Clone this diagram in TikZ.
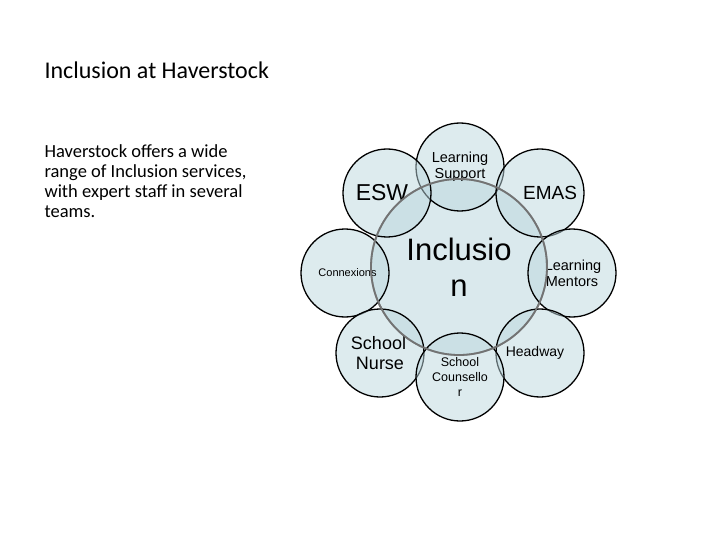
\documentclass[tikz,border=0pt]{standalone}
\usepackage{fontspec}
\setmainfont{Carlito}
\newfontfamily\arialf{Liberation Sans}
\begin{document}
\begin{tikzpicture}[x=1pt,y=-1pt,
  sm/.style={circle,minimum size=88pt,draw=black,line width=1.3pt,fill=cfill,fill opacity=0.5,text opacity=1,align=center,font=\arialf,inner sep=0pt},
  big/.style={circle,minimum size=176pt,draw=black!55,line width=1.8pt,fill=cfill,fill opacity=0.55,text opacity=1,align=center,font=\arialf\fontsize{31}{36}\selectfont,inner sep=0pt}]
\definecolor{cfill}{HTML}{BCD7DE}
\useasboundingbox (0,0) rectangle (720,540);
\node[anchor=west,font=\fontsize{24}{28}\selectfont] (title) at (41,70) {Inclusion at Haverstock};
\node[anchor=north west,align=left,font=\fontsize{18.5}{20}\selectfont] (body) at (41,141) {Haverstock offers a wide\\range of Inclusion services,\\with expert staff in several\\teams.};
\node[big] (inc) at (459,267) {\phantom{X}};
\node[sm,font=\arialf\fontsize{14.5}{16}\selectfont] (ls) at (460,167) {Learning\\Support};
\node[sm,font=\arialf\fontsize{23}{26}\selectfont] (esw) at (387,193) {\hspace*{-10pt}ESW};
\node[sm,font=\arialf\fontsize{19}{22}\selectfont] (emas) at (540,193) {\hspace*{20pt}EMAS};
\node[sm,font=\arialf\fontsize{11}{13}\selectfont] (cx) at (345,273) {\hspace*{5pt}Connexions};
\node[sm,font=\arialf\fontsize{14.5}{16}\selectfont] (lm) at (572,273) {\hspace*{2pt}Learning\\Mentors};
\node[sm,font=\arialf\fontsize{18}{20}\selectfont] (sn) at (380,353) {\hspace*{-3pt}School\\Nurse};
\node[sm,font=\arialf\fontsize{14}{16}\selectfont] (hw) at (540,353) {\hspace*{-10pt}Headway};
\node[sm,font=\arialf\fontsize{12.5}{15}\selectfont] (sc) at (460,377) {School\\Counsello\\r};
\draw[draw=black!55,line width=1.8pt] (inc.center) circle[radius=88pt];
\node[align=center,font=\arialf\fontsize{31}{36}\selectfont] (inct) at (459,267) {Inclusio\\n};
\end{tikzpicture}
\end{document}
